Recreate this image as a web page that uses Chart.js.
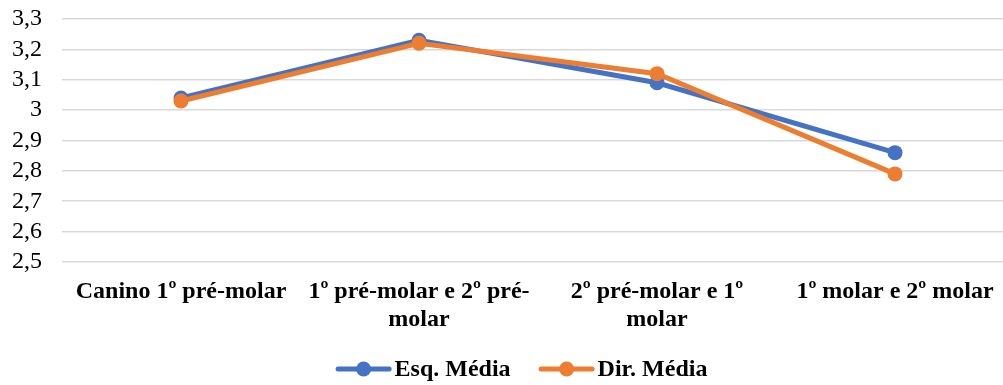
<!DOCTYPE html>
<html>
<head>
<meta charset="utf-8">
<script src="https://cdn.jsdelivr.net/npm/chart.js@4.4.1/dist/chart.umd.min.js"></script>
<style>
  html, body { margin: 0; padding: 0; background: #ffffff; overflow: hidden; }
  #wrap { position: absolute; left: 0; top: 0; width: 1040px; height: 385px; }
</style>
</head>
<body>
<div id="wrap"><canvas id="chart" width="1040" height="385"></canvas></div>
<script>
// Segment categories (wrapped as in the original labels)
const categories = [
  "Canino 1º pré-molar",
  ["1º pré-molar e 2º pré-", "molar"],
  ["2º pré-molar e 1º", "molar"],
  "1º molar e 2º molar"
];
const seriesNames = ["Esq. Média", "Dir. Média"];
const esqMedia = [3.04, 3.23, 3.09, 2.86];
const dirMedia = [3.03, 3.22, 3.12, 2.79];
const yTicks = [2.5, 2.6, 2.7, 2.8, 2.9, 3.0, 3.1, 3.2, 3.3];

const BLUE = "#4472C4";
const ORANGE = "#ED7D31";
const SERIF = "'Liberation Serif', 'Times New Roman', serif";
const LINE_W = 5;
const DOT_R = 7.5;

// Legend drawn under the x labels: line-with-marker swatch, then the series name
const lineLegend = {
  id: "lineLegend",
  afterDraw(chart) {
    const ctx = chart.ctx;
    const y = 369;
    const swW = 56, gap = 3, itemGap = 28;
    ctx.save();
    ctx.font = "bold 24px " + SERIF;
    const items = chart.data.datasets.map(ds => ({
      color: ds.borderColor, text: ds.label, w: ctx.measureText(ds.label).width
    }));
    const total = items.reduce((s, it) => s + swW + gap + it.w, 0) + itemGap * (items.length - 1);
    let x = 521.5 - total / 2;
    items.forEach(it => {
      ctx.strokeStyle = it.color;
      ctx.lineWidth = LINE_W;
      ctx.lineCap = "round";
      ctx.beginPath(); ctx.moveTo(x + 2.5, y); ctx.lineTo(x + swW - 2.5, y); ctx.stroke();
      ctx.fillStyle = it.color;
      ctx.beginPath(); ctx.arc(x + swW / 2, y, DOT_R, 0, Math.PI * 2); ctx.fill();
      ctx.fillStyle = "#000";
      ctx.textBaseline = "middle";
      ctx.textAlign = "left";
      ctx.fillText(it.text, x + swW + gap, y + 1);
      x += swW + gap + it.w + itemGap;
    });
    ctx.restore();
  }
};

new Chart(document.getElementById("chart"), {
  type: "line",
  data: {
    labels: categories,
    datasets: [
      { label: seriesNames[0], data: esqMedia, borderColor: BLUE, backgroundColor: BLUE,
        borderWidth: LINE_W, pointRadius: DOT_R, pointHoverRadius: DOT_R, pointBorderWidth: 0, order: 1, tension: 0 },
      { label: seriesNames[1], data: dirMedia, borderColor: ORANGE, backgroundColor: ORANGE,
        borderWidth: LINE_W, pointRadius: DOT_R, pointHoverRadius: DOT_R, pointBorderWidth: 0, order: 0, tension: 0 }
    ]
  },
  plugins: [lineLegend],
  options: {
    responsive: false,
    animation: false,
    devicePixelRatio: 1,
    layout: { padding: { left: 12, right: 26, top: 19, bottom: 48 } },
    plugins: {
      tooltip: { enabled: false },
      legend: { display: false }
    },
    scales: {
      x: {
        offset: true,
        clip: false,
        grid: { display: false },
        border: { display: false },
        afterFit: (s) => { s.height = 75; s.paddingLeft = 0; s.paddingRight = 0; },
        ticks: {
          color: "#000",
          font: { family: SERIF, size: 24, weight: "bold", lineHeight: 1.15 },
          maxRotation: 0, autoSkip: false, padding: 8
        }
      },
      y: {
        min: 2.5, max: 3.3,
        clip: false,
        afterBuildTicks: (scale) => { scale.ticks = yTicks.map(v => ({ value: v })); },
        afterFit: (s) => { s.width = 50; s.paddingTop = 0; s.paddingBottom = 0; },
        grid: { color: "#d9d9d9", lineWidth: 1.5, drawTicks: false },
        border: { display: false },
        ticks: {
          color: "#000",
          padding: 20,
          autoSkip: false,
          font: { family: SERIF, size: 24 },
          callback: (v) => String(Math.round(v * 10) / 10).replace(".", ",")
        }
      }
    }
  }
});
</script>
</body>
</html>
